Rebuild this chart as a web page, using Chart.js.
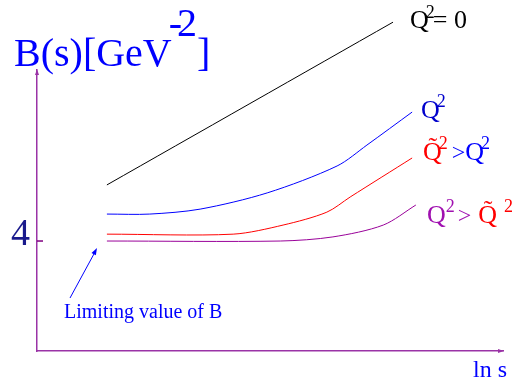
<!DOCTYPE html>
<html>
<head>
<meta charset="utf-8">
<script src="https://cdn.jsdelivr.net/npm/chart.js@4"></script>
<style>
  html, body { margin: 0; padding: 0; background: #fff; }
  canvas { display: block; }
</style>
</head>
<body>
<canvas id="chart" width="526" height="381"></canvas>
<script>
// ln s positions and B(s) values for each curve
const freeX = [1.5, 7.64]
const freeB = [6.04, 11.96]
const qX = [1.5, 2.42, 3.5, 4.94, 6.44, 7.08, 8.05]
const qB = [4.98, 4.98, 5.16, 5.75, 6.73, 7.49, 8.69]
const tildeX = [1.5, 4.21, 5.28, 6.22, 6.72, 8.05]
const tildeB = [4.25, 4.25, 4.58, 5.05, 5.6, 7.02]
const bigX = [1.5, 5.22, 6.35, 7.43, 8.13]
const bigB = [4.0, 4.0, 4.15, 4.58, 5.31]
const yTicks = [4]

const AXIS = '#9a33a6'
const SERIF = '"Liberation Serif", "Times New Roman", serif'

const toPoints = (xs, ys) => xs.map((x, i) => ({ x: x, y: ys[i] }))

const curve = (xs, ys, color) => ({
  data: toPoints(xs, ys),
  borderColor: color,
  borderWidth: 1,
  pointRadius: 0,
  tension: 0.3,
  fill: false,
  clip: false,
})

// draws a row of text pieces, each with its own colour / size / raise
const runs = (ctx, x, y, parts) => {
  ctx.textBaseline = 'alphabetic'
  ctx.textAlign = 'left'
  parts.forEach(p => {
    ctx.font = p.size + 'px ' + SERIF
    ctx.fillStyle = p.color
    ctx.fillText(p.t, x + (p.dx || 0), y - (p.up || 0))
    x += ctx.measureText(p.t).width + (p.dx || 0)
  })
}

const arrowHead = (ctx, x, y, ang, len, wid, color) => {
  ctx.save()
  ctx.translate(x, y)
  ctx.rotate(ang)
  ctx.fillStyle = color
  ctx.beginPath()
  ctx.moveTo(0, 0)
  ctx.lineTo(-len, -wid)
  ctx.lineTo(-len, wid)
  ctx.closePath()
  ctx.fill()
  ctx.restore()
}

const annotations = {
  id: 'annotations',
  afterDraw(chart) {
    const ctx = chart.ctx
    const a = chart.chartArea
    const ys = chart.scales.y
    ctx.save()

    // axis arrows and the inner tick mark
    arrowHead(ctx, a.left, a.top - 1, -Math.PI / 2, 6, 2, AXIS)
    arrowHead(ctx, a.right + 1, a.bottom, 0, 6, 2, AXIS)
    ctx.strokeStyle = '#800080'
    ctx.lineWidth = 1.5
    yTicks.forEach(v => {
      const py = ys.getPixelForValue(v)
      ctx.beginPath()
      ctx.moveTo(a.left, py)
      ctx.lineTo(a.left + 6, py)
      ctx.stroke()
    })

    // axis titles
    runs(ctx, 14, 66, [
      { t: 'B(s)[GeV', color: '#0000ff', size: 40 },
      { t: '-', color: '#0000ff', size: 40, up: 30, dx: -3 },
      { t: '2', color: '#0000ff', size: 40, up: 30, dx: -5 },
      { t: ']', color: '#0000ff', size: 40, dx: 0 },
    ])
    runs(ctx, 473, 377, [{ t: 'ln s', color: '#0000ff', size: 24 }])

    // curve labels
    runs(ctx, 410, 28, [
      { t: 'Q', color: '#000', size: 26 },
      { t: '2', color: '#000', size: 18, up: 10, dx: -3 },
      { t: '= 0', color: '#000', size: 26, dx: -2 },
    ])
    runs(ctx, 421, 118, [
      { t: 'Q', color: '#0000cc', size: 26 },
      { t: '2', color: '#0000cc', size: 18, up: 11, dx: -3 },
    ])
    runs(ctx, 423, 160, [
      { t: 'Q\u0303', color: '#ff0000', size: 26 },
      { t: '2', color: '#ff0000', size: 18, up: 11, dx: -3 },
      { t: '>', color: '#0000ff', size: 24, dx: 4 },
      { t: 'Q', color: '#0000ff', size: 26 },
      { t: '2', color: '#0000ff', size: 18, up: 11, dx: -3 },
    ])
    runs(ctx, 427, 223, [
      { t: 'Q', color: '#a010b0', size: 26 },
      { t: '2', color: '#a010b0', size: 18, up: 11, dx: 0 },
      { t: '>', color: '#a010b0', size: 24, dx: 3 },
      { t: 'Q\u0303', color: '#ff0000', size: 26, dx: 7 },
      { t: '2', color: '#ff0000', size: 18, up: 11, dx: 7 },
    ])

    // note pointing at the common starting value
    runs(ctx, 64, 318, [{ t: 'Limiting value of B', color: '#0000ff', size: 20 }])
    ctx.strokeStyle = '#0000ff'
    ctx.lineWidth = 1
    ctx.beginPath()
    ctx.moveTo(70, 298)
    ctx.lineTo(95, 252)
    ctx.stroke()
    arrowHead(ctx, 97, 248, Math.atan2(248 - 298, 97 - 70), 7, 2.5, '#0000ff')

    ctx.restore()
  },
}

new Chart(document.getElementById('chart'), {
  type: 'line',
  data: {
    datasets: [
      curve(freeX, freeB, '#000000'),
      curve(qX, qB, '#0000ff'),
      curve(tildeX, tildeB, '#ff0000'),
      curve(bigX, bigB, '#990099'),
    ],
  },
  options: {
    responsive: false,
    animation: false,
    layout: { padding: { top: 70, right: 23, bottom: 30, left: 0 } },
    plugins: {
      legend: { display: false },
      tooltip: { enabled: false },
    },
    scales: {
      x: {
        type: 'linear',
        min: 0,
        max: 10,
        grid: { display: false, drawTicks: false },
        ticks: { display: false },
        border: { display: true, color: AXIS, width: 1.5 },
        afterFit: (s) => { s.height = 0 },
      },
      y: {
        type: 'linear',
        min: 0,
        max: 10.22,
        afterBuildTicks: (s) => { s.ticks = yTicks.map(v => ({ value: v })) },
        grid: { display: false, drawTicks: false },
        ticks: {
          padding: 7,
          labelOffset: -6,
          color: '#1a1a8c',
          font: { family: SERIF, size: 38 },
        },
        border: { display: true, color: AXIS, width: 1.5 },
        afterFit: (s) => { s.width = 37 },
      },
    },
  },
  plugins: [annotations],
})
</script>
</body>
</html>
